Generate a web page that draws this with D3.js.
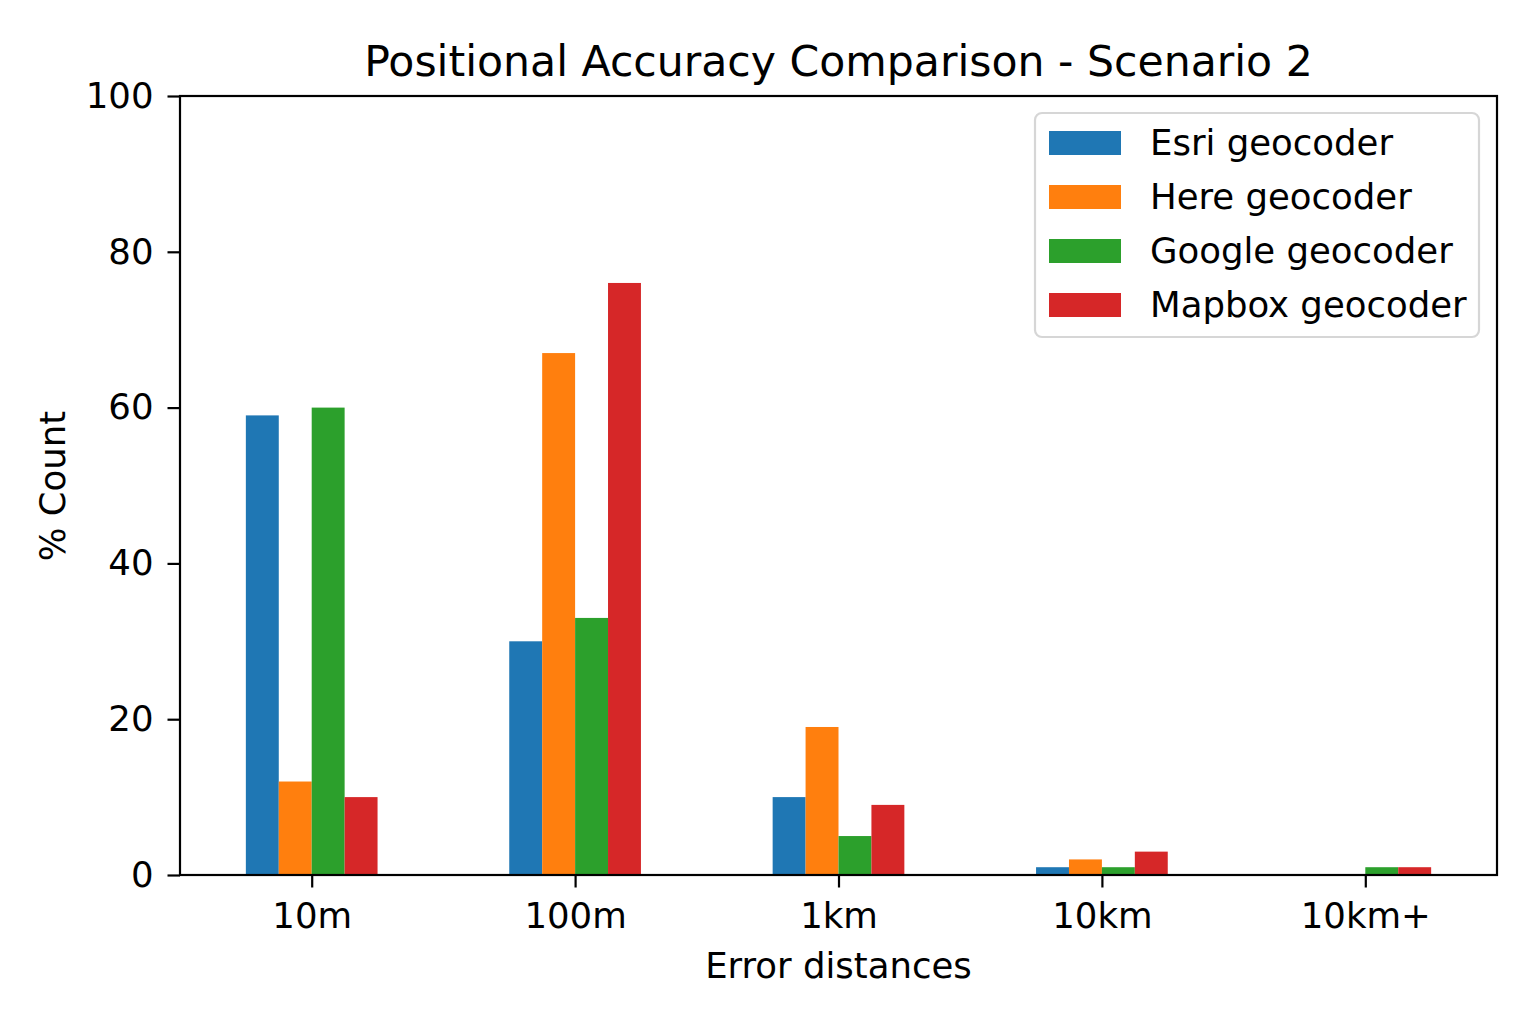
<!DOCTYPE html>
<html><head><meta charset="utf-8">
<script src="https://cdn.jsdelivr.net/npm/d3@7"></script>
<style>body{margin:0;background:#fff;} text{font-family:"DejaVu Sans",sans-serif;}</style>
</head><body><svg id="c" width="1536" height="1024"></svg>
<script>
const categories = ["10m","100m","1km","10km","10km+"];
const seriesNames = ["Esri geocoder","Here geocoder","Google geocoder","Mapbox geocoder"];
const colors = ["#1f77b4","#ff7f0e","#2ca02c","#d62728"];
const esri = [59,30,10,1,0];
const here = [12,67,19,2,0];
const google = [60,33,5,1,1];
const mapbox = [10,76,9,3,1];
const yTicks = [0,20,40,60,80,100];
const series = [esri,here,google,mapbox];

const svg = d3.select("#c");
const L=180,R=1497,T=96,B=875;
const FS=35.5, TFS=42.6;
const x = d3.scaleLinear().domain([-0.5,4.5]).range([L,R]);
const y = d3.scaleLinear().domain([0,100]).range([B,T]);
const bw = 0.125;

series.forEach((s,si)=>{
  svg.append("g").selectAll("rect").data(s).join("rect")
    .attr("x",(d,i)=>x(i-0.25+si*bw))
    .attr("width",x(bw)-x(0))
    .attr("y",d=>y(d))
    .attr("height",d=>y(0)-y(d))
    .attr("fill",colors[si]);
});

const ya = svg.append("g").attr("transform",`translate(${L},0)`)
  .call(d3.axisLeft(y).tickValues(yTicks).tickSize(12.5).tickPadding(14));
const xa = svg.append("g").attr("transform",`translate(0,${B})`)
  .call(d3.axisBottom(x).tickValues(d3.range(categories.length)).tickFormat(i=>categories[i]).tickSize(12.5).tickPadding(15));
[ya,xa].forEach(a=>{
  a.select(".domain").remove();
  a.selectAll("line").attr("stroke","#000").attr("stroke-width",2.2);
  a.selectAll("text").attr("font-size",FS).attr("fill","#000").style("font-family","DejaVu Sans");
});
svg.append("rect").attr("x",L).attr("y",T).attr("width",R-L).attr("height",B-T)
  .attr("fill","none").attr("stroke","#000").attr("stroke-width",2.2);

svg.append("text").attr("x",(L+R)/2).attr("y",76).attr("text-anchor","middle").attr("font-size",TFS).text("Positional Accuracy Comparison - Scenario 2");
svg.append("text").attr("x",(L+R)/2).attr("y",978).attr("text-anchor","middle").attr("font-size",FS).text("Error distances");
svg.append("text").attr("transform","translate(65,486) rotate(-90)").attr("text-anchor","middle").attr("font-size",FS).text("% Count");

const lg = svg.append("g");
lg.append("rect").attr("x",1035).attr("y",113).attr("width",444).attr("height",224).attr("rx",7)
  .attr("fill","#fff").attr("fill-opacity",0.8).attr("stroke","#d6d6d6").attr("stroke-width",2.2);
seriesNames.forEach((n,i)=>{
  const cy = 143+i*54;
  lg.append("rect").attr("x",1049).attr("y",cy-12).attr("width",72).attr("height",24).attr("fill",colors[i]);
  lg.append("text").attr("x",1150).attr("y",cy+12).attr("font-size",FS).text(n);
});
</script></body></html>
